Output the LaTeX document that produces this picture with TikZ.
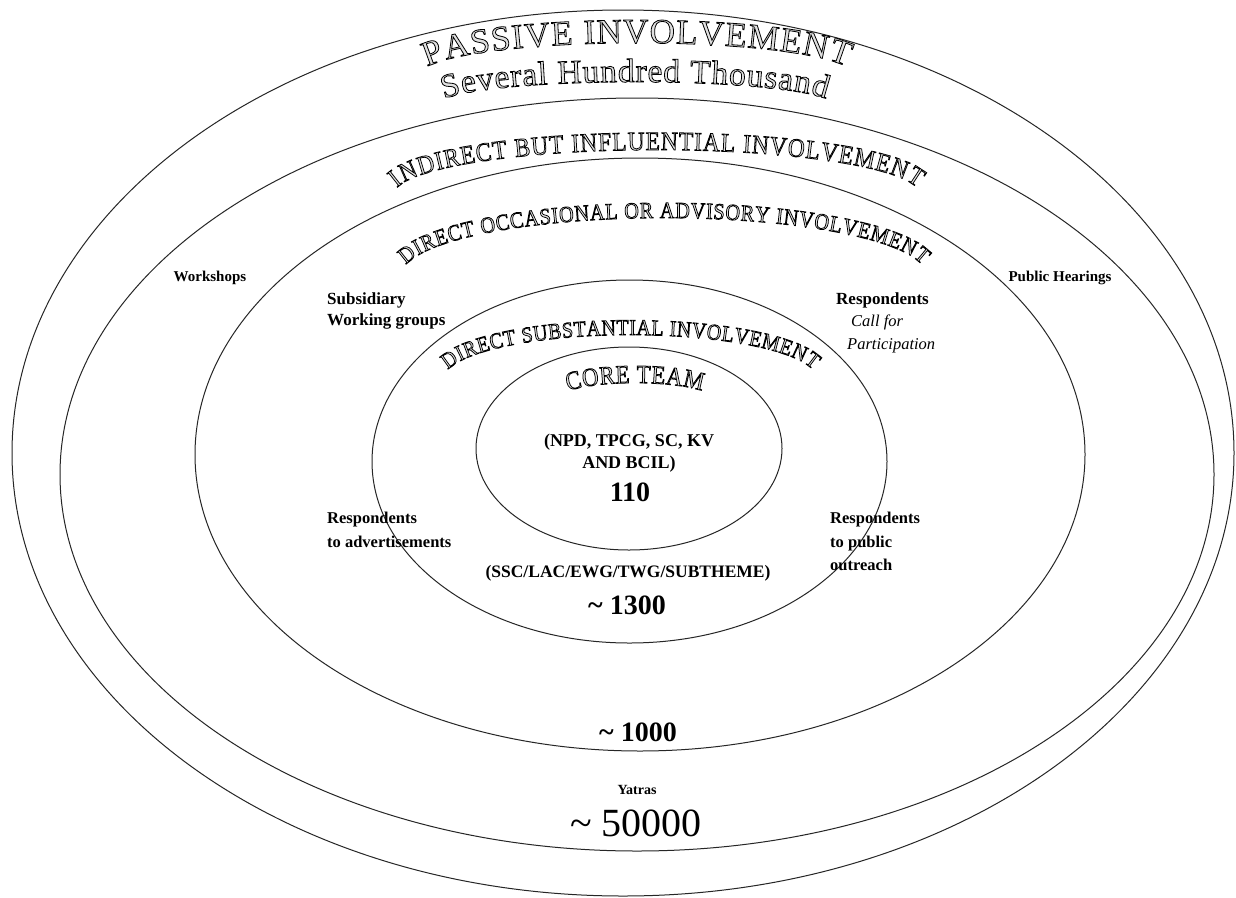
\documentclass[tikz,border=0pt]{standalone}
\usepackage{fontspec}
\setmainfont{Liberation Serif}
\newfontfamily\condserif[FakeStretch=0.88]{Liberation Serif}
\usetikzlibrary{decorations.text}
% hollow (outlined) glyphs: PDF text render mode 2 = fill + stroke, light fill
\newcommand\hol[1]{\fontsize{#1}{#1}\selectfont\special{pdf:literal direct 2 Tr 0.8 w 0.88 g}}
\newcommand\holc[1]{\condserif\fontsize{#1}{#1}\selectfont\special{pdf:literal direct 2 Tr 0.75 w 0.88 g}}
\tikzset{
  ring/.style={draw=black!85, line width=1pt},
  lbl/.style={font=\bfseries\fontsize{17}{21}\selectfont, inner sep=0pt, align=left},
  small/.style={font=\bfseries\fontsize{15}{18}\selectfont, inner sep=0pt},
  num/.style={font=\bfseries\fontsize{28}{30}\selectfont, inner sep=0pt},
  itl/.style={font=\itshape\fontsize{16.5}{20}\selectfont, inner sep=0pt},
  arctext/.style={decorate, decoration={text along path, text align={fit to path}, text={#1}}}
}
\begin{document}
\begin{tikzpicture}[x=1pt,y=1pt]
\useasboundingbox (0,0) rectangle (1236,-897);
\fill[white] (0,0) rectangle (1236,-897);

% rings
\draw[ring] (623,-453)   ellipse [x radius=611pt, y radius=443pt];
\draw[ring] (637,-474.5) ellipse [x radius=577pt, y radius=376.5pt];
\draw[ring] (640,-454.5) ellipse [x radius=445pt, y radius=296.5pt];
\draw[ring] (629.5,-461.5) ellipse [x radius=257.5pt, y radius=181.5pt];
\draw[ring] (629,-448.5) ellipse [x radius=153pt, y radius=101.5pt];

% curved outlined titles (arched word-art)
\path[arctext={|\hol{35}|PASSIVE INVOLVEMENT}]
  ([shift={(637,-75.5)}]164.8:217.6pt and 32.5pt) arc[start angle=164.8, end angle=15.2, x radius=217.6pt, y radius=32.5pt];
\path[arctext={|\hol{33.5}|Several Hundred Thousand}]
  ([shift={(635,-104.6)}]165.7:197.1pt and 22.6pt) arc[start angle=165.7, end angle=14.3, x radius=197.1pt, y radius=22.6pt];
\path[arctext={|\holc{26.5}|INDIRECT BUT INFLUENTIAL INVOLVEMENT}]
  ([shift={(657,-194.9)}]171.2:263.1pt and 44.9pt) arc[start angle=171.2, end angle=8.8, x radius=263.1pt, y radius=44.9pt];
\path[arctext={|\holc{23}|DIRECT OCCASIONAL OR ADVISORY INVOLVEMENT}]
  ([shift={(664,-275.3)}]169.7:262.2pt and 57.3pt) arc[start angle=169.7, end angle=10.3, x radius=262.2pt, y radius=57.3pt];
\path[arctext={|\holc{22.5}|DIRECT SUBSTANTIAL INVOLVEMENT}]
  ([shift={(630.5,-379.4)}]167.8:186.7pt and 44.4pt) arc[start angle=167.8, end angle=12.2, x radius=186.7pt, y radius=44.4pt];
\path[arctext={|\holc{26}|CORE TEAM}]
  ([shift={(635,-399.6)}]148.8:78.3pt and 16.6pt) arc[start angle=148.8, end angle=31.2, x radius=78.3pt, y radius=16.6pt];

% labels
\node[small] (workshops) at (210,-278) {Workshops};
\node[small] (hearings) at (1060,-278) {Public Hearings};
\node[lbl, anchor=north west] (subsid) at (327,-292) {Subsidiary\\Working groups};
\node[lbl, anchor=north west] (respcall) at (836,-292) {Respondents};
\node[itl, anchor=north west] (callfor) at (851,-315) {Call for};
\node[itl, anchor=north west] (particip) at (847,-338) {Participation};

\node[font=\bfseries\fontsize{18}{22}\selectfont, inner sep=0pt, align=center] (core) at (629,-453) {(NPD, TPCG, SC, KV\\AND BCIL)};
\node[num] (n110) at (630,-492) {110};
\node[font=\bfseries\fontsize{17.5}{20}\selectfont, inner sep=0pt] (ssc) at (628,-573) {(SSC/LAC/EWG/TWG/SUBTHEME)};
\node[num] (n1300) at (627,-605) {\textasciitilde\ 1300};

\node[lbl, font=\bfseries\fontsize{16.5}{23.5}\selectfont, anchor=north west] (respadv) at (327,-512) {Respondents\\to advertisements};
\node[lbl, font=\bfseries\fontsize{16.5}{23.5}\selectfont, anchor=north west] (resppub) at (830,-512) {Respondents\\to public\\outreach};

\node[num] (n1000) at (638,-732) {\textasciitilde\ 1000};
\node[font=\bfseries\fontsize{14}{16}\selectfont, inner sep=0pt] (yatras) at (637,-790) {Yatras};
\node[font=\fontsize{40}{44}\selectfont, inner sep=0pt] (n50000) at (636,-823) {\textasciitilde\ 50000};
\end{tikzpicture}
\end{document}
